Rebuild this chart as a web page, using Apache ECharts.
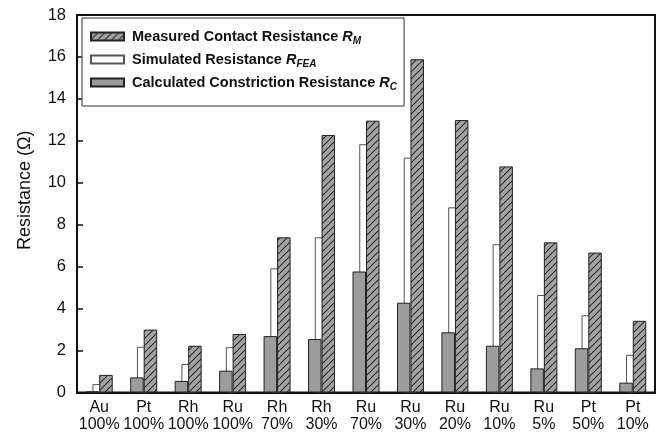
<!DOCTYPE html>
<html>
<head>
<meta charset="utf-8">
<script src="https://cdn.jsdelivr.net/npm/echarts@6/dist/echarts.min.js"></script>
<style>
html,body{margin:0;padding:0;background:#fff;}
#c{width:661px;height:440px;}
</style>
</head>
<body>
<div id="c"></div>
<script>
const categories = ['Au\n100%','Pt\n100%','Rh\n100%','Ru\n100%','Rh\n70%','Rh\n30%','Ru\n70%','Ru\n30%','Ru\n20%','Ru\n10%','Ru\n5%','Pt\n50%','Pt\n10%'];
const calculatedRC = [0.05, 0.72, 0.55, 1.04, 2.69, 2.55, 5.77, 4.28, 2.87, 2.23, 1.15, 2.11, 0.47];
const simulatedRFEA = [0.40, 2.18, 1.36, 2.16, 5.92, 7.40, 11.84, 11.20, 8.83, 7.07, 4.65, 3.68, 1.80];
const measuredRM = [0.84, 3.00, 2.23, 2.79, 7.40, 12.28, 12.96, 15.89, 12.99, 10.78, 7.16, 6.67, 3.42];
const yTicks = [0, 2, 4, 6, 8, 10, 12, 14, 16, 18];

const NAME_M = 'Measured Contact Resistance';
const NAME_F = 'Simulated Resistance';
const NAME_C = 'Calculated Constriction Resistance';

function hatch() {
  const s = 7;
  const cv = document.createElement('canvas');
  cv.width = s; cv.height = s;
  const g = cv.getContext('2d');
  g.fillStyle = '#a3a3a3';
  g.fillRect(0, 0, s, s);
  g.strokeStyle = '#2a2a2a';
  g.lineWidth = 1.1;
  g.beginPath();
  g.moveTo(-1, s + 1); g.lineTo(s + 1, -1);
  g.moveTo(-1 - s, s + 1); g.lineTo(1, -1);
  g.moveTo(s - 1, 2 * s + 1); g.lineTo(2 * s + 1, s - 1);
  g.stroke();
  return cv;
}

const FONT = 'Arial, "Liberation Sans", sans-serif';
const chart = echarts.init(document.getElementById('c'), null, {renderer: 'canvas'});
const subs = {};
subs[NAME_M] = 'M'; subs[NAME_F] = 'FEA'; subs[NAME_C] = 'C';

chart.setOption({
  animation: false,
  backgroundColor: '#fff',
  textStyle: {fontFamily: FONT},
  grid: {left: 77, right: 6, top: 15, bottom: 47.5, show: true, borderColor: '#111', borderWidth: 2, backgroundColor: 'transparent'},
  legend: {
    orient: 'vertical',
    left: 82, top: 18,
    padding: [11, 7, 14, 8],
    itemGap: 6,
    itemWidth: 33, itemHeight: 8,
    icon: 'rect',
    backgroundColor: '#fff',
    borderColor: '#333', borderWidth: 1,
    data: [NAME_M, NAME_F, NAME_C],
    formatter: function (n) { return '{b|' + n + ' }{i|R}{s|' + subs[n] + '}'; },
    textStyle: {
      fontFamily: FONT,
      rich: {
        b: {fontSize: 14.5, fontWeight: 'bold', color: '#111', fontFamily: FONT, padding: [0, 0, 0, 3]},
        i: {fontSize: 14.5, fontWeight: 'bold', fontStyle: 'italic', color: '#111', fontFamily: FONT},
        s: {fontSize: 10, fontWeight: 'bold', fontStyle: 'italic', color: '#111', fontFamily: FONT, padding: [9, 0, 0, 0]}
      }
    }
  },
  xAxis: {
    type: 'category',
    data: categories,
    axisLine: {lineStyle: {color: '#111', width: 2}},
    axisTick: {alignWithLabel: true, length: 5, lineStyle: {color: '#111', width: 1.5}},
    axisLabel: {interval: 0, fontSize: 16, lineHeight: 17, color: '#111', margin: 7, fontFamily: FONT},
    splitLine: {show: false}
  },
  yAxis: {
    type: 'value',
    min: yTicks[0], max: yTicks[yTicks.length - 1], interval: 2,
    name: 'Resistance (\u03A9)',
    nameLocation: 'middle',
    nameGap: 43,
    nameTextStyle: {fontSize: 18, color: '#111', fontFamily: FONT, padding: [0, 0, 0, 27]},
    axisLine: {show: true, lineStyle: {color: '#111', width: 2}},
    axisTick: {show: true, inside: true, length: 6, lineStyle: {color: '#111', width: 1.5}},
    axisLabel: {fontSize: 16.5, color: '#111', margin: 11, fontFamily: FONT},
    splitLine: {show: false}
  },
  series: [
    {
      name: NAME_C, type: 'bar', data: calculatedRC, barWidth: 13.5, barGap: '-50%', z: 4,
      itemStyle: {color: '#9c9c9c', borderColor: '#222', borderWidth: 1}
    },
    {
      name: NAME_F, type: 'bar', data: simulatedRFEA, barWidth: 13.5, barGap: '-50%', z: 2,
      itemStyle: {color: '#ffffff', borderColor: '#555', borderWidth: 1}
    },
    {
      name: NAME_M, type: 'bar', data: measuredRM, barWidth: 13.5, barGap: '-50%', z: 4,
      itemStyle: {color: {image: hatch(), repeat: 'repeat'}, borderColor: '#222', borderWidth: 1}
    }
  ]
});
</script>
</body>
</html>
